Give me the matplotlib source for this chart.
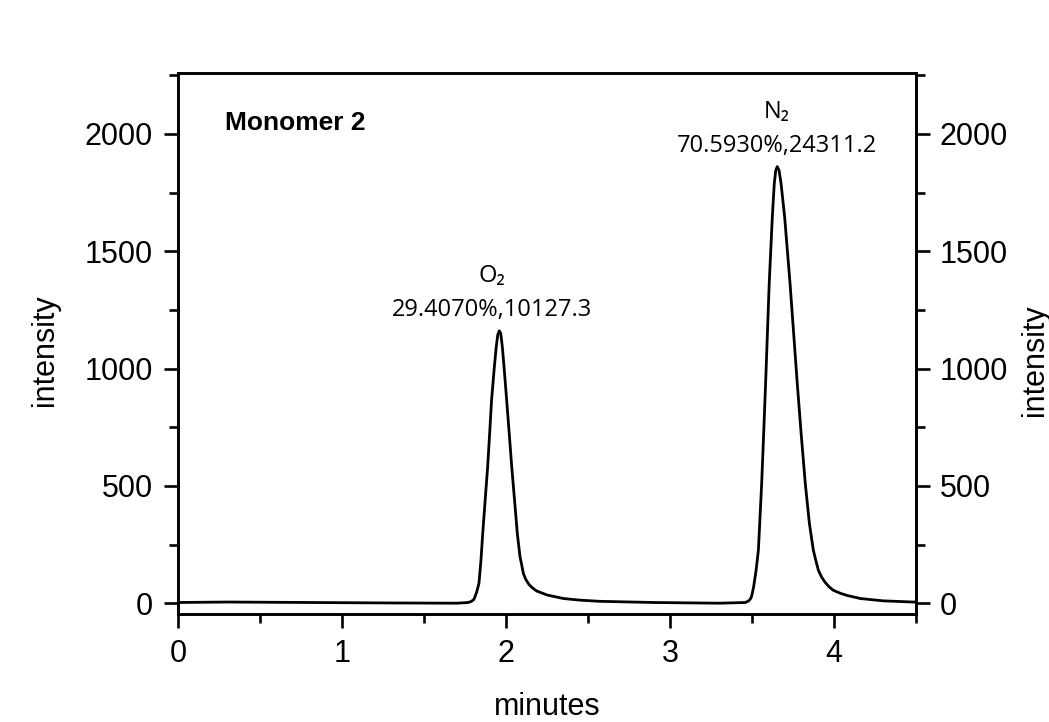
# Chromatogram, Monomer 2 (O2 / N2)
import matplotlib.pyplot as plt
from matplotlib.ticker import MultipleLocator

plt.rcParams['font.family'] = ['Liberation Sans', 'DejaVu Sans']

# values
time = [0.0, 0.3, 0.8, 1.3, 1.7, 1.77, 1.79, 1.805, 1.82, 1.835, 1.847, 1.858,
        1.873, 1.888, 1.90, 1.912, 1.929, 1.94, 1.95, 1.959, 1.968, 1.978, 1.988,
        2.004, 2.02, 2.035, 2.052, 2.069, 2.085, 2.106, 2.12, 2.14, 2.16, 2.187,
        2.25, 2.35, 2.45, 2.57, 2.9, 3.3, 3.46, 3.48, 3.49, 3.498, 3.51, 3.525,
        3.539, 3.559, 3.571, 3.583, 3.594, 3.605, 3.624, 3.636, 3.645, 3.654,
        3.665, 3.677, 3.699, 3.732, 3.754, 3.776, 3.80, 3.825, 3.85, 3.874,
        3.89, 3.905, 3.924, 3.945, 3.97, 3.996, 4.04, 4.08, 4.16, 4.3, 4.48, 4.5]
intensity = [3, 5, 3, 1, 0, 3, 8, 17, 45, 84, 180, 297,
             440, 581, 720, 866, 1008, 1090, 1145, 1161, 1150, 1090, 1008,
             866, 720, 581, 440, 297, 200, 127, 102, 80, 66, 52,
             35, 20, 13, 8, 3, 0, 3, 10, 18, 30, 70, 140,
             226, 510, 720, 937, 1150, 1363, 1647, 1790, 1845, 1861,
             1845, 1790, 1647, 1363, 1150, 937, 720, 510, 340, 226,
             180, 140, 112, 90, 70, 55, 42, 33, 20, 10, 5, 5]

peak_names = ['O₂', 'N₂']
peak_info = ['29.4070%,10127.3', '70.5930%,24311.2']
peak_height = [1161, 1861]
label_x = [1.915, 3.652]

fig = plt.figure(figsize=(10.49, 7.22), dpi=100)
ax = fig.add_axes([0.1697, 0.1496, 0.7035, 0.7493])
ax.plot(time, intensity, color='black', lw=2.0)

ax.set_xlim(0, 4.5)
ax.set_ylim(-46, 2260)
ax.xaxis.set_major_locator(MultipleLocator(1))
ax.xaxis.set_minor_locator(MultipleLocator(0.5))
ax.yaxis.set_major_locator(MultipleLocator(500))
ax.yaxis.set_minor_locator(MultipleLocator(250))
for s in ax.spines.values():
    s.set_linewidth(1.9)
ax.tick_params(which='major', direction='out', length=10, width=1.9, labelsize=22, pad=8)
ax.tick_params(which='minor', direction='out', length=6.5, width=1.9)

ax2 = ax.twinx()
ax2.set_ylim(ax.get_ylim())
ax2.yaxis.set_major_locator(MultipleLocator(500))
ax2.yaxis.set_minor_locator(MultipleLocator(250))
ax2.tick_params(which='major', direction='out', length=10, width=1.9, labelsize=22, pad=7)
ax2.tick_params(which='minor', direction='out', length=6.5, width=1.9)
for s in ax2.spines.values():
    s.set_linewidth(1.9)

# axis titles
fig.text(547 / 1049, 1 - 715 / 722, 'minutes', fontsize=22, ha='center', va='baseline')
fig.text(45 / 1049, 1 - 350 / 722, 'intensity', fontsize=22, rotation=90,
         ha='center', va='center')
fig.text(1035 / 1049, 1 - 360 / 722, 'intensity', fontsize=22, rotation=90,
         ha='center', va='center')

ax.text(0.0637, 0.8946, 'Monomer 2', transform=ax.transAxes, fontsize=19,
        fontweight='bold', va='baseline', ha='left')

for name, info, x, h in zip(peak_names, peak_info, label_x, peak_height):
    ax.text(x, h + 208, name, ha='center', va='baseline', fontsize=17,
            family=['Open Sans', 'DejaVu Sans'])
    ax.text(x, h + 63, info, ha='center', va='baseline', fontsize=17,
            family=['Open Sans', 'DejaVu Sans'])

fig.savefig('out.png', dpi=100)
